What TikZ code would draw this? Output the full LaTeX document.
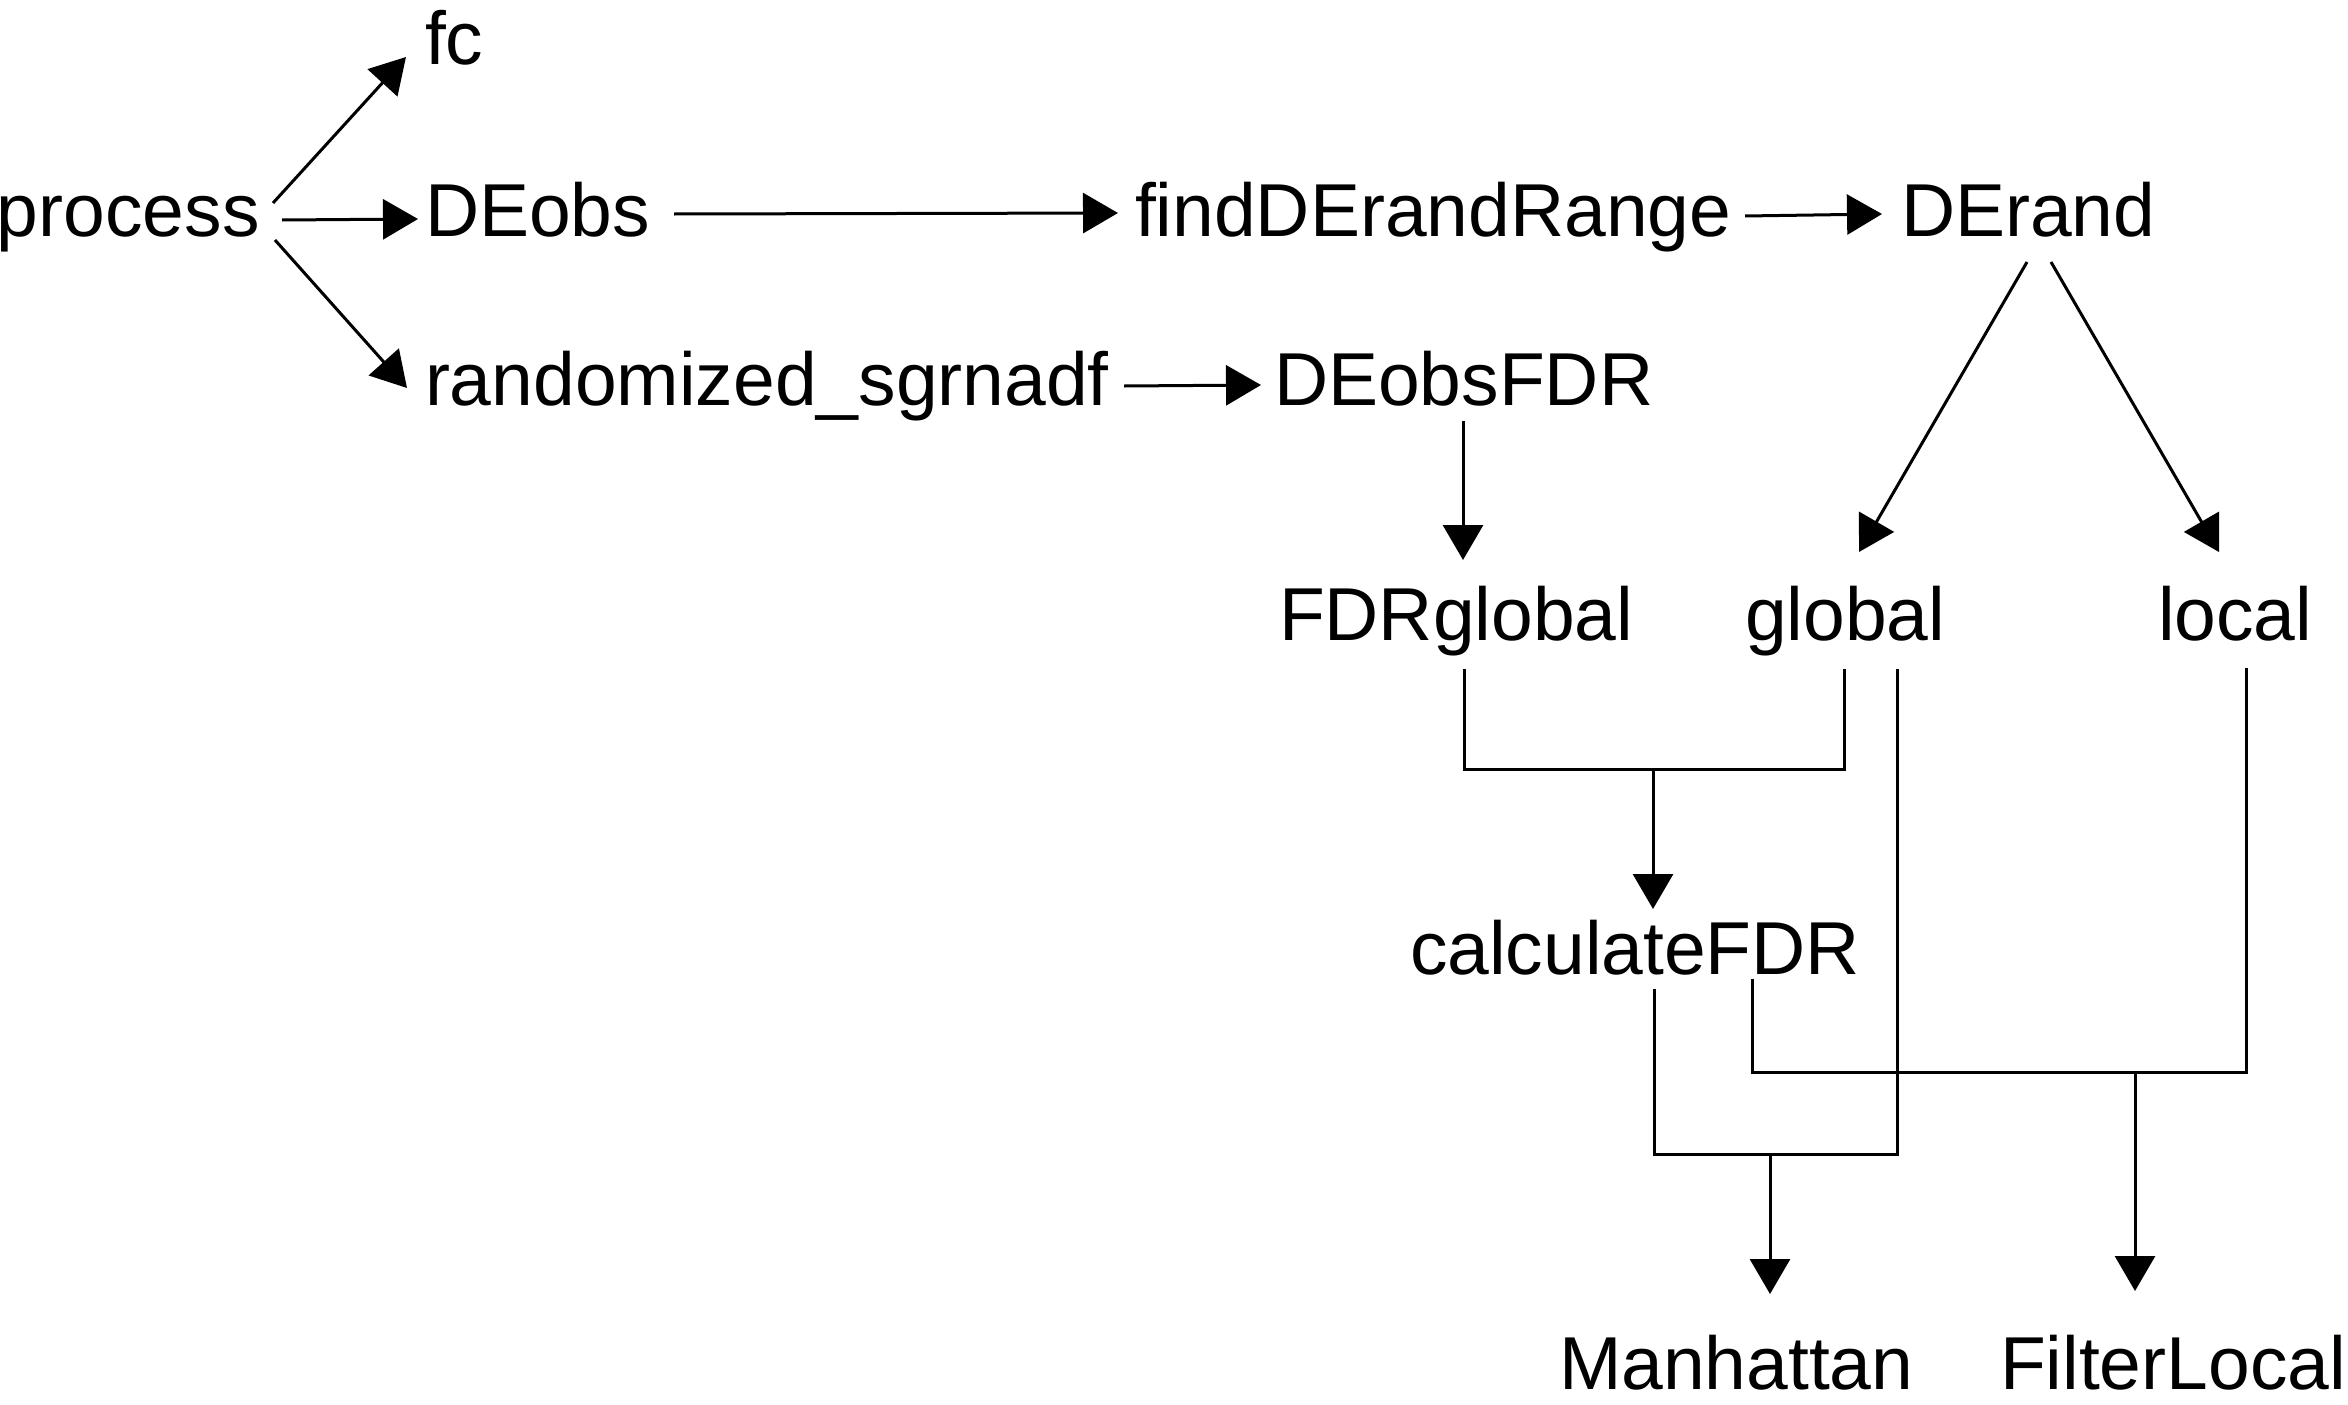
\documentclass[tikz,border=0pt]{standalone}
\usepackage{fontspec}
\setmainfont{Liberation Sans}
\usetikzlibrary{arrows.meta}
\begin{document}
\begin{tikzpicture}[x=1pt,y=-1pt,
  lbl/.style={inner sep=0pt,outer sep=0pt,anchor=base west,font=\fontsize{75}{90}\selectfont},
  conn/.style={line width=3pt,draw=black},
  arr/.style={conn,-{Triangle[length=35pt,width=40pt]}}]
\useasboundingbox (0,0) rectangle (2348,1405);
% nodes (origin = base west)
\node[lbl] (process) at (-3,236) {process};
\node[lbl] (fc) at (425,65) {fc};
\node[lbl] (DEobs) at (425,236) {DEobs};
\node[lbl] (rand) at (425,405) {randomized\_sgrnadf};
\node[lbl] (find) at (1135,236) {findDErandRange};
\node[lbl] (DErand) at (1901,236) {DErand};
\node[lbl] (DEobsFDR) at (1274,405) {DEobsFDR};
\node[lbl] (FDRglobal) at (1279,640) {FDRglobal};
\node[lbl] (global) at (1745,640) {global};
\node[lbl] (local) at (2158,640) {local};
\node[lbl] (calc) at (1410,974) {calculateFDR};
\node[lbl] (Manhattan) at (1559,1389) {Manhattan};
\node[lbl] (FilterLocal) at (2000,1389) {FilterLocal};
% junctions
\coordinate (j1) at ([shift={(374,129)}]FDRglobal.base west);
\coordinate (j2) at ([shift={(25,514)}]global.base west);
\coordinate (j3) at ([shift={(725,98)}]calc.base west);
% straight arrows
\draw[arr] ([shift={(276,-33)}]process.base west) -- ([shift={(-19,-8)}]fc.base west);
\draw[arr] ([shift={(285,-16)}]process.base west) -- ([shift={(-7,-17)}]DEobs.base west);
\draw[arr] ([shift={(278,4)}]process.base west) -- ([shift={(-18,-17)}]rand.base west);
\draw[arr] ([shift={(249,-22)}]DEobs.base west) -- ([shift={(-17,-23)}]find.base west);
\draw[arr] ([shift={(610,-20)}]find.base west) -- ([shift={(-19,-22)}]DErand.base west);
\draw[arr] ([shift={(699,-19)}]rand.base west) -- ([shift={(-13,-20)}]DEobsFDR.base west);
\draw[arr] ([shift={(189,16)}]DEobsFDR.base west) -- ([shift={(184,-80)}]FDRglobal.base west);
\draw[arr] ([shift={(126,26)}]DErand.base west) -- ([shift={(114,-88)}]global.base west);
\draw[arr] ([shift={(150,26)}]DErand.base west) -- ([shift={(61,-88)}]local.base west);
% merges
\draw[conn] ([shift={(185,29)}]FDRglobal.base west) |- (j1) -| ([shift={(99,29)}]global.base west);
\draw[arr] (j1) -- ([shift={(243,-65)}]calc.base west);
\draw[conn] ([shift={(152,29)}]global.base west) |- (j2) -| ([shift={(244,15)}]calc.base west);
\draw[arr] (j2) -- ([shift={(211,-95)}]Manhattan.base west);
\draw[conn] ([shift={(342,5)}]calc.base west) |- (j3) -| ([shift={(88,28)}]local.base west);
\draw[arr] (j3) -- ([shift={(135,-98)}]FilterLocal.base west);
\end{tikzpicture}
\end{document}
